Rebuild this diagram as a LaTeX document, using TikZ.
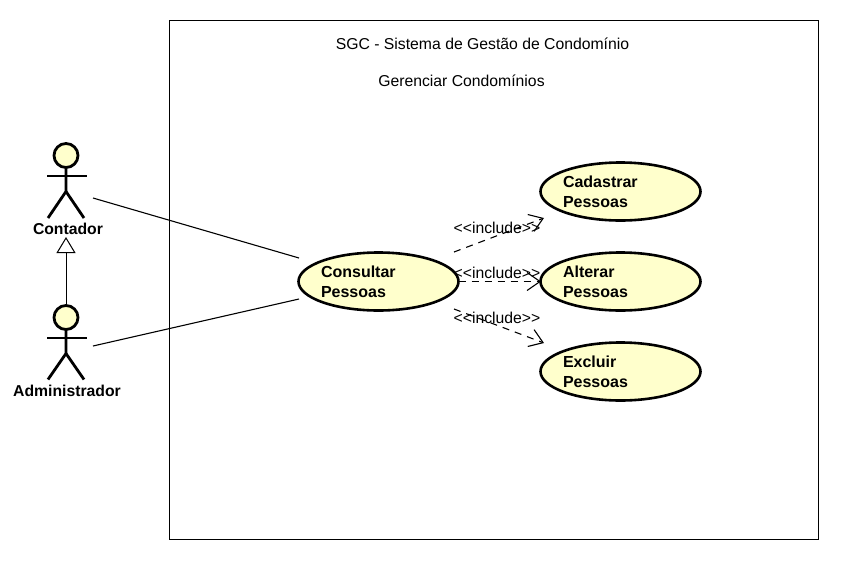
\documentclass[tikz,border=0pt]{standalone}
\usepackage{fontspec}
\setmainfont{Liberation Sans}
\usetikzlibrary{arrows.meta,shapes.geometric}
\definecolor{ucfill}{HTML}{FFFFCC}
\tikzset{
    usecase/.style={draw,ellipse,fill=ucfill,line width=2.6pt,minimum width=160pt,minimum height=58pt,
        inner xsep=-2pt,inner ysep=0pt,outer sep=0pt,text width=115pt,align=left,
        font=\fontsize{16}{20}\selectfont\bfseries},
    actorhead/.style={draw,circle,fill=ucfill,line width=2.8pt,minimum size=24pt,inner sep=0pt,outer sep=0pt},
    actorline/.style={line width=2.8pt},
    actorlabel/.style={inner sep=0pt,font=\fontsize{15.75}{18}\selectfont\bfseries},
    plaintext/.style={inner sep=0pt,font=\fontsize{15.75}{18}\selectfont},
    assoc/.style={line width=1.1pt},
    generalizes/.style={line width=1pt,-{Triangle[open,fill=white,length=16pt,width=19pt,line width=1pt]}},
    includes/.style={line width=1.1pt,dash pattern=on 7pt off 6pt,-{Straight Barb[length=13pt,width=18pt,line width=1.1pt]}},
}
\begin{document}
\begin{tikzpicture}[x=1pt,y=-1pt]
    \useasboundingbox (0,0) rectangle (841,566);
    \fill[white] (0,0) rectangle (841,566);
    \node[draw,line width=1pt,minimum width=649pt,minimum height=519pt,inner sep=0pt,outer sep=0pt,anchor=north west] (sistema) at (169.5,20.5) {};
    \node[plaintext] (titulo) at (482.5,44) {SGC - Sistema de Gestão de Condomínio};
    \node[plaintext] (pacote) at (461.5,80.5) {Gerenciar Condomínios};
    % actors
    \node[actorhead] (contador) at (66,155.5) {};
    \draw[actorline] (contador.south)--++(0,24)--++(-18,26.5);
    \draw[actorline] (contador.south)++(0,24)--++(18,26.5);
    \draw[actorline] (47,176)--(87,176);
    \node[actorlabel] (contadorLabel) at (68,228.5) {Contador};
    \node[actorhead] (administrador) at (66,317.5) {};
    \draw[actorline] (administrador.south)--++(0,24)--++(-18,26);
    \draw[actorline] (administrador.south)++(0,24)--++(18,26);
    \draw[actorline] (47,338)--(87,338);
    \node[actorlabel] (administradorLabel) at (67,390.5) {Administrador};
    % use cases
    \node[usecase] (consultar) at (378.5,281.5) {Consultar\\Pessoas};
    \node[usecase] (cadastrar) at (620.5,191.5) {Cadastrar\\Pessoas};
    \node[usecase] (alterar) at (620.5,281.5) {Alterar\\Pessoas};
    \node[usecase] (excluir) at (620.5,371.5) {Excluir\\Pessoas};
    % connectors
    \coordinate (contadorOut) at (93,198);
    \coordinate (contadorIn) at (299,258);
    \coordinate (administradorOut) at (93,346);
    \coordinate (administradorIn) at (299,299);
    \coordinate (contadorTip) at (66,237);
    \draw[assoc] (contadorOut)--(contadorIn);
    \draw[assoc] (administradorOut)--(administradorIn);
    \draw[generalizes] (administrador.north)--(contadorTip);
    \coordinate (cadastrarOut) at (454,252);
    \coordinate (cadastrarTip) at (544,218);
    \coordinate (alterarTip) at (541,281.5);
    \coordinate (excluirOut) at (454,309);
    \coordinate (excluirTip) at (544,343);
    \draw[includes] (cadastrarOut)--(cadastrarTip);
    \draw[includes] (consultar.east)--(alterarTip);
    \draw[includes] (excluirOut)--(excluirTip);
    \node[plaintext] (includeA) at (497,228) {<{}<include>{}>};
    \node[plaintext] (includeB) at (497,273) {<{}<include>{}>};
    \node[plaintext] (includeC) at (497,318) {<{}<include>{}>};
\end{tikzpicture}
\end{document}
